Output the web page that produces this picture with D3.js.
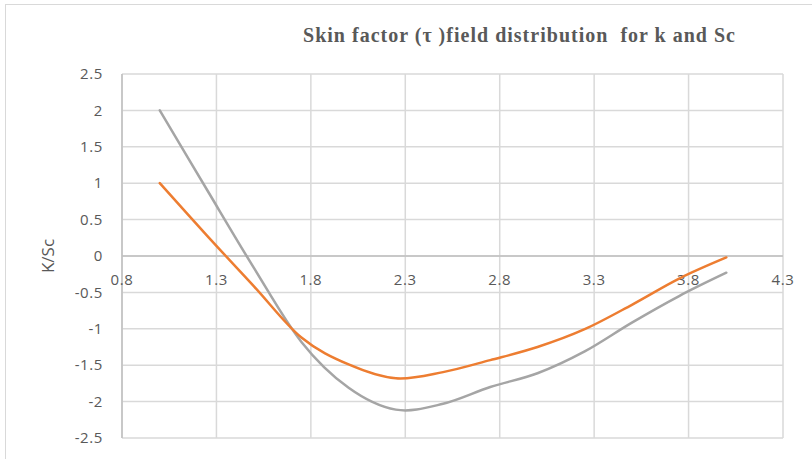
<!DOCTYPE html>
<html><head><meta charset="utf-8">
<script src="https://cdn.jsdelivr.net/npm/d3@7"></script>
<style>body{margin:0;background:#fff}svg{display:block}</style>
</head><body>
<svg id="c" width="812" height="459"></svg>
<script>
const title = "Skin factor (τ )field distribution  for k and Sc";
const yTitle = "K/Sc";
const xValues = [1.0, 1.25, 1.5, 1.75, 2.0, 2.25, 2.5, 2.75, 3.0, 3.25, 3.5, 3.75, 4.0];
const seriesK = [1.0, 0.28, -0.42, -1.12, -1.49, -1.68, -1.595, -1.43, -1.25, -1.005, -0.67, -0.31, -0.02];
const seriesSc = [2.0, 0.91, -0.17, -1.18, -1.81, -2.11, -2.03, -1.80, -1.61, -1.31, -0.915, -0.55, -0.23];
const xTicks = [0.8, 1.3, 1.8, 2.3, 2.8, 3.3, 3.8, 4.3];
const yTicks = [-2.5, -2, -1.5, -1, -0.5, 0, 0.5, 1, 1.5, 2, 2.5];
const colors = ["#ED7D31", "#A5A5A5"];

const svg = d3.select("#c");
svg.append("rect").attr("x",5.5).attr("y",4.5).attr("width",820).attr("height",470)
  .attr("fill","#fff").attr("stroke","#d9d9d9").attr("stroke-width",1);

const x = d3.scaleLinear().domain([0.8, 4.3]).range([122, 783]);
const y = d3.scaleLinear().domain([-2.5, 2.5]).range([438, 74]);

svg.append("g").selectAll("line").data(yTicks).join("line")
  .attr("x1", x(0.8)).attr("x2", x(4.3))
  .attr("y1", d => y(d)).attr("y2", d => y(d))
  .attr("stroke", "#d9d9d9").attr("stroke-width", 1.5);
svg.append("g").selectAll("line").data(xTicks).join("line")
  .attr("x1", d => x(d)).attr("x2", d => x(d))
  .attr("y1", y(2.5)).attr("y2", y(-2.5))
  .attr("stroke", "#d9d9d9").attr("stroke-width", 1.5);
svg.append("line").attr("x1", x(0.8)).attr("x2", x(4.3)).attr("y1", y(0)).attr("y2", y(0))
  .attr("stroke", "#bfbfbf").attr("stroke-width", 1.5);
svg.append("line").attr("x1", x(0.8)).attr("x2", x(0.8)).attr("y1", y(2.5)).attr("y2", y(-2.5))
  .attr("stroke", "#bfbfbf").attr("stroke-width", 1.5);

const fmt = d => String(d);
const tickFont = "Open Sans, Liberation Sans, Arial, sans-serif";
svg.append("g").selectAll("text").data(yTicks).join("text")
  .attr("x", 103).attr("y", d => y(d)).attr("dy", "0.35em")
  .attr("text-anchor", "end")
  .attr("font-family", tickFont).attr("font-size", 15)
  .attr("letter-spacing", 0.6)
  .attr("fill", "#595959").text(fmt);
svg.append("g").selectAll("text").data(xTicks).join("text")
  .attr("x", d => x(d)).attr("y", y(0) + 24).attr("dy", "0.35em")
  .attr("text-anchor", "middle")
  .attr("font-family", tickFont).attr("font-size", 15)
  .attr("letter-spacing", 0.6)
  .attr("fill", "#595959").text(fmt);

svg.append("text").attr("transform", `translate(54,${y(0)}) rotate(-90)`)
  .attr("text-anchor", "middle")
  .attr("font-family", tickFont).attr("font-size", 17)
  .attr("fill", "#595959").text(yTitle);

svg.append("text").attr("x", 303).attr("y", 42)
  .attr("font-family", "Liberation Serif, Times New Roman, serif").attr("font-weight", "bold")
  .attr("font-size", 20).attr("fill", "#595959")
  .attr("textLength", 432).attr("lengthAdjust", "spacing")
  .style("white-space", "pre").text(title);

const line = d3.line().x((d, i) => x(xValues[i])).y(d => y(d)).curve(d3.curveCatmullRom.alpha(0));
[seriesSc, seriesK].forEach((s, k) => {
  svg.append("path").datum(s).attr("d", line).attr("fill", "none")
    .attr("stroke", k === 0 ? colors[1] : colors[0]).attr("stroke-width", 2.5)
    .attr("stroke-linecap", "round");
});
</script>
</body></html>
